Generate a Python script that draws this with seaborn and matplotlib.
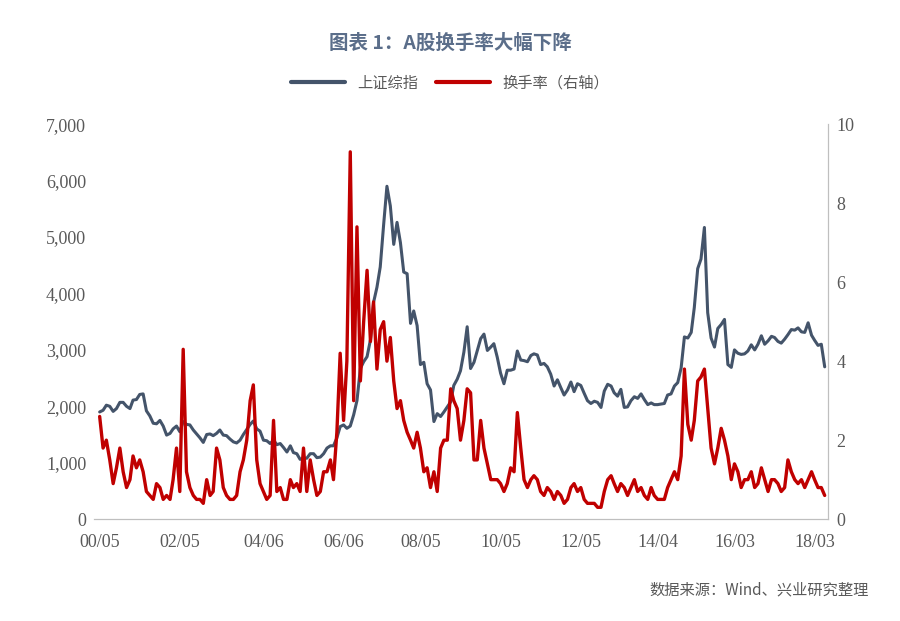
import numpy as np
import pandas as pd
import seaborn as sns
import matplotlib.pyplot as plt
import matplotlib.dates as mdates
from matplotlib.lines import Line2D

# monthly values, 2000-05 .. 2018-06
sse = [1900, 1930, 2020, 2000, 1910, 1960, 2070, 2070,
       2000, 1960, 2110, 2120, 2210, 2220, 1920, 1830, 1700, 1690, 1750, 1650,
       1490, 1520, 1600, 1650, 1550, 1730, 1680, 1670, 1580, 1510, 1440, 1360,
       1500, 1510, 1480, 1520, 1580, 1490, 1480, 1420, 1370, 1350, 1400, 1500,
       1590, 1680, 1740, 1600, 1560, 1400, 1390, 1340, 1400, 1320, 1340, 1270,
       1190, 1300, 1180, 1160, 1060, 1080, 1080, 1160, 1160, 1090, 1100, 1160,
       1260, 1300, 1300, 1440, 1640, 1670, 1610, 1650, 1850, 2100, 2670, 2790,
       2880, 3180, 3840, 4110, 4470, 5220, 5900, 5550, 4870, 5260, 4900, 4380,
       4350, 3470, 3690, 3430, 2740, 2780, 2400, 2290, 1730, 1870, 1820, 1900,
       1990, 2080, 2370, 2480, 2630, 2960, 3410, 2670, 2780, 2990, 3200, 3280,
       2990, 3050, 3110, 2870, 2590, 2400, 2640, 2640, 2660, 2980, 2820, 2810,
       2790, 2900, 2930, 2910, 2740, 2760, 2700, 2570, 2360, 2470, 2330, 2200,
       2290, 2430, 2260, 2400, 2370, 2230, 2100, 2050, 2090, 2070, 1980, 2270,
       2390, 2360, 2240, 2180, 2300, 1980, 1990, 2100, 2170, 2140, 2220, 2120,
       2030, 2060, 2030, 2030, 2040, 2050, 2200, 2220, 2360, 2420, 2680, 3230,
       3210, 3310, 3750, 4440, 4610, 5170, 3660, 3210, 3050, 3380, 3450, 3540,
       2740, 2690, 3000, 2940, 2920, 2930, 2980, 3090, 3000, 3100, 3250, 3100,
       3160, 3240, 3220, 3150, 3120, 3190, 3270, 3360, 3350, 3390, 3320, 3310,
       3480, 3260, 3170, 3080, 3100, 2700]

turnover = [2.6, 1.8, 2.0, 1.5, 0.9, 1.3, 1.8, 1.2,
            0.8, 1.0, 1.6, 1.3, 1.5, 1.2, 0.7, 0.6, 0.5, 0.9, 0.8, 0.5,
            0.6, 0.5, 1.0, 1.8, 0.7, 4.3, 1.2, 0.8, 0.6, 0.5, 0.5, 0.4,
            1.0, 0.6, 0.7, 1.8, 1.5, 0.8, 0.6, 0.5, 0.5, 0.6, 1.2, 1.5,
            2.0, 3.0, 3.4, 1.5, 0.9, 0.7, 0.5, 0.6, 2.5, 0.7, 0.8, 0.5,
            0.5, 1.0, 0.8, 0.9, 0.7, 1.8, 0.7, 1.5, 1.0, 0.6, 0.7, 1.2,
            1.2, 1.5, 1.0, 2.2, 4.2, 2.5, 4.0, 9.3, 3.0, 7.4, 3.5, 5.0,
            6.3, 4.5, 5.5, 3.8, 4.8, 5.0, 4.0, 4.6, 3.5, 2.8, 3.0, 2.5,
            2.2, 2.0, 1.8, 2.2, 1.8, 1.2, 1.3, 0.8, 1.2, 0.7, 1.8, 2.0,
            2.0, 3.3, 3.0, 2.8, 2.0, 2.5, 3.3, 3.2, 1.5, 1.5, 2.5, 1.8,
            1.4, 1.0, 1.0, 1.0, 0.9, 0.7, 0.9, 1.3, 1.2, 2.7, 1.8, 1.0,
            0.8, 1.0, 1.1, 1.0, 0.7, 0.6, 0.8, 0.7, 0.5, 0.7, 0.6, 0.4,
            0.5, 0.8, 0.9, 0.7, 0.8, 0.5, 0.4, 0.4, 0.4, 0.3, 0.3, 0.7,
            1.0, 1.1, 0.9, 0.7, 0.9, 0.8, 0.6, 0.8, 1.0, 0.7, 0.8, 0.6,
            0.5, 0.8, 0.6, 0.5, 0.5, 0.5, 0.8, 1.0, 1.2, 1.0, 1.6, 3.8,
            2.4, 2.0, 2.5, 3.5, 3.6, 3.8, 2.8, 1.8, 1.4, 1.8, 2.3, 2.0,
            1.6, 1.0, 1.4, 1.2, 0.8, 1.0, 1.0, 1.2, 0.8, 0.9, 1.3, 1.0,
            0.7, 1.0, 1.0, 0.9, 0.7, 0.8, 1.5, 1.2, 1.0, 0.9, 1.0, 0.8,
            1.0, 1.2, 1.0, 0.8, 0.8, 0.6]

tick_dates = ["2000-05-01", "2002-05-01", "2004-06-01", "2006-06-01", "2008-05-01",
              "2010-05-01", "2012-05-01", "2014-04-01", "2016-03-01", "2018-03-01"]
tick_labels = ["00/05", "02/05", "04/06", "06/06", "08/05",
               "10/05", "12/05", "14/04", "16/03", "18/03"]

df = pd.DataFrame({"date": pd.date_range("2000-05-01", periods=len(sse), freq="MS"),
                   "sse": sse, "turnover": turnover})

sns.set_style("white")
plt.rcParams['font.family'] = ['Noto Sans CJK SC', 'DejaVu Sans']

navy = "#44546A"
red = "#C00000"
grey = "#595959"

fig = plt.figure(figsize=(9, 6.21), dpi=100)
ax = fig.add_axes([0.105, 0.164, 0.815, 0.636])
ax2 = ax.twinx()

sns.lineplot(data=df, x="date", y="sse", ax=ax, color=navy, linewidth=2.2)
sns.lineplot(data=df, x="date", y="turnover", ax=ax2, color=red, linewidth=2.4)

ax.set_ylim(0, 7000)
ax.set_yticks(range(0, 7001, 1000))
ax.set_yticklabels([f"{v:,}" for v in range(0, 7001, 1000)])
ax2.set_ylim(0, 10)
ax2.set_yticks(range(0, 11, 2))
ax.set_xlim(pd.Timestamp("2000-03-15"), pd.Timestamp("2018-07-01"))
ax.set_xticks(pd.to_datetime(tick_dates))
ax.set_xticklabels(tick_labels)
ax.set_xlabel("")
ax.set_ylabel("")
ax2.set_ylabel("")

for a in (ax, ax2):
    for lbl in a.get_xticklabels() + a.get_yticklabels():
        lbl.set_family("Liberation Serif")
        lbl.set_fontsize(13)
        lbl.set_color(grey)
    a.tick_params(length=0, pad=6)
    a.spines["top"].set_visible(False)
    a.spines["left"].set_visible(False)
    a.spines["right"].set_color("#BFBFBF")
    a.spines["bottom"].set_color("#BFBFBF")
ax.tick_params(axis="x", length=5, color="#BFBFBF", direction="out")

fig.text(0.5, 0.93, "图表 1：A股换手率大幅下降", ha="center", va="center",
         fontsize=14, fontweight="bold", color="#5B6E8A")
handles = [Line2D([], [], color=navy, lw=3), Line2D([], [], color=red, lw=3)]
fig.legend(handles, ["上证综指", "换手率（右轴）"], loc="center", bbox_to_anchor=(0.5, 0.866),
           ncol=2, frameon=False, fontsize=11, labelcolor=grey, handlelength=3.5, columnspacing=1.2)
fig.text(0.965, 0.05, "数据来源：Wind、兴业研究整理", ha="right", va="center",
         fontsize=11, color=grey)

fig.savefig("out.png", dpi=100)
